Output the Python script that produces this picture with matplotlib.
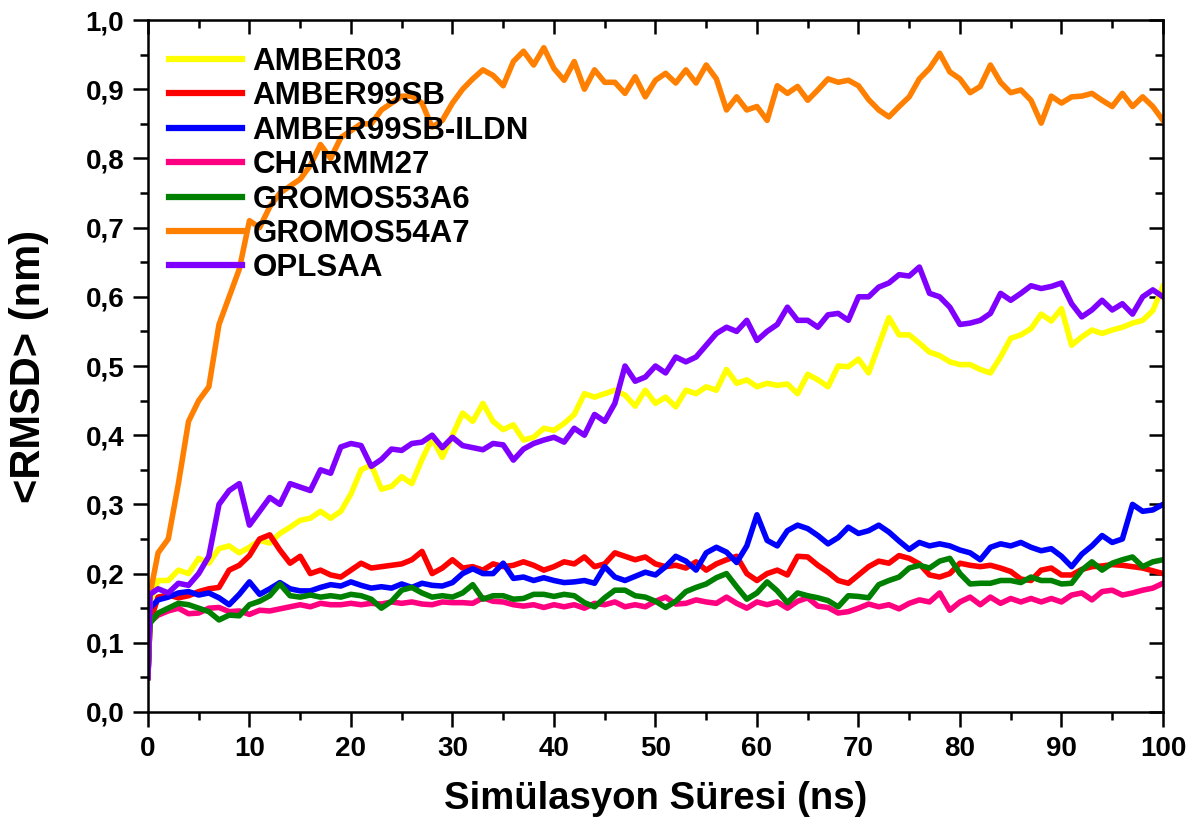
import matplotlib
matplotlib.use("Agg")
import matplotlib.pyplot as plt
from matplotlib.ticker import MultipleLocator, FuncFormatter

plt.rcParams['font.family'] = ['Liberation Sans', 'DejaVu Sans']
plt.rcParams['font.weight'] = 'bold'

# time axis (ns)
time = [0, 0.2] + list(range(1, 101))

amber03 = [0.05, 0.16, 0.19, 0.19, 0.205, 0.20, 0.222, 0.215, 0.236, 0.24, 0.23,
           0.238, 0.248, 0.244, 0.258, 0.267, 0.277, 0.28, 0.29, 0.28, 0.29,
           0.315, 0.35, 0.357, 0.322, 0.326, 0.34, 0.33, 0.365, 0.395, 0.368,
           0.40, 0.432, 0.42, 0.446, 0.42, 0.408, 0.415, 0.393, 0.397, 0.41,
           0.407, 0.417, 0.43, 0.46, 0.455, 0.46, 0.465, 0.458, 0.442, 0.465,
           0.446, 0.455, 0.441, 0.465, 0.46, 0.47, 0.465, 0.495, 0.475, 0.48,
           0.47, 0.475, 0.472, 0.474, 0.46, 0.488, 0.48, 0.47, 0.50, 0.499,
           0.51, 0.49, 0.53, 0.57, 0.545, 0.545, 0.533, 0.52, 0.515, 0.506,
           0.502, 0.502, 0.495, 0.49, 0.513, 0.54, 0.545, 0.554, 0.575, 0.565,
           0.583, 0.53, 0.542, 0.552, 0.547, 0.552, 0.556, 0.562, 0.566, 0.58,
           0.615]

amber99sb = [0.05, 0.13, 0.166, 0.169, 0.165, 0.168, 0.174, 0.178, 0.18, 0.205, 0.212,
             0.226, 0.25, 0.256, 0.234, 0.215, 0.225, 0.20, 0.205, 0.198, 0.195,
             0.205, 0.215, 0.208, 0.21, 0.212, 0.214, 0.22, 0.232, 0.20, 0.208,
             0.22, 0.208, 0.21, 0.205, 0.214, 0.21, 0.212, 0.217, 0.212, 0.205,
             0.21, 0.217, 0.214, 0.224, 0.21, 0.214, 0.23, 0.225, 0.22, 0.224,
             0.214, 0.21, 0.212, 0.208, 0.217, 0.205, 0.214, 0.22, 0.225, 0.20,
             0.19, 0.20, 0.205, 0.198, 0.225, 0.224, 0.212, 0.202, 0.19, 0.186,
             0.198, 0.21, 0.218, 0.215, 0.226, 0.222, 0.214, 0.198, 0.195, 0.20,
             0.215, 0.212, 0.21, 0.212, 0.208, 0.203, 0.192, 0.19, 0.205, 0.208,
             0.198, 0.198, 0.206, 0.21, 0.211, 0.213, 0.212, 0.21, 0.208, 0.204,
             0.20]

amber99sb_ildn = [0.05, 0.15, 0.162, 0.166, 0.172, 0.174, 0.169, 0.172, 0.165, 0.155, 0.17,
                  0.188, 0.17, 0.178, 0.187, 0.178, 0.175, 0.175, 0.18, 0.184, 0.182,
                  0.188, 0.183, 0.179, 0.181, 0.179, 0.185, 0.18, 0.186, 0.183, 0.182,
                  0.187, 0.20, 0.207, 0.20, 0.20, 0.215, 0.193, 0.195, 0.19, 0.194,
                  0.19, 0.187, 0.188, 0.19, 0.186, 0.21, 0.195, 0.19, 0.196, 0.202,
                  0.198, 0.21, 0.225, 0.218, 0.205, 0.23, 0.238, 0.231, 0.216, 0.24,
                  0.285, 0.248, 0.24, 0.262, 0.27, 0.265, 0.255, 0.243, 0.252, 0.267,
                  0.258, 0.262, 0.27, 0.26, 0.247, 0.235, 0.245, 0.24, 0.243, 0.24,
                  0.234, 0.23, 0.22, 0.238, 0.243, 0.24, 0.245, 0.238, 0.233, 0.236,
                  0.225, 0.21, 0.228, 0.24, 0.255, 0.245, 0.25, 0.30, 0.29, 0.292,
                  0.30]

charmm27 = [0.05, 0.13, 0.14, 0.146, 0.15, 0.142, 0.143, 0.15, 0.151, 0.145, 0.146,
            0.141, 0.147, 0.146, 0.149, 0.152, 0.155, 0.152, 0.157, 0.155, 0.155,
            0.157, 0.155, 0.157, 0.156, 0.159, 0.157, 0.159, 0.156, 0.155, 0.159,
            0.158, 0.158, 0.157, 0.165, 0.16, 0.159, 0.155, 0.153, 0.155, 0.151,
            0.155, 0.152, 0.155, 0.15, 0.157, 0.155, 0.159, 0.152, 0.155, 0.152,
            0.16, 0.166, 0.156, 0.157, 0.162, 0.159, 0.157, 0.166, 0.157, 0.15,
            0.159, 0.155, 0.159, 0.15, 0.16, 0.165, 0.153, 0.151, 0.143, 0.145,
            0.15, 0.156, 0.152, 0.155, 0.149, 0.157, 0.162, 0.159, 0.172, 0.147,
            0.159, 0.166, 0.155, 0.166, 0.157, 0.164, 0.159, 0.164, 0.159, 0.164,
            0.159, 0.169, 0.172, 0.162, 0.174, 0.176, 0.169, 0.172, 0.176, 0.179,
            0.186]

gromos53a6 = [0.05, 0.128, 0.143, 0.15, 0.157, 0.155, 0.15, 0.145, 0.133, 0.14, 0.139,
              0.155, 0.16, 0.168, 0.185, 0.168, 0.166, 0.169, 0.166, 0.168, 0.166,
              0.17, 0.168, 0.163, 0.15, 0.16, 0.176, 0.18, 0.172, 0.166, 0.168,
              0.166, 0.172, 0.184, 0.163, 0.168, 0.168, 0.163, 0.164, 0.17, 0.17,
              0.167, 0.17, 0.168, 0.158, 0.152, 0.165, 0.176, 0.176, 0.168, 0.166,
              0.16, 0.151, 0.16, 0.174, 0.18, 0.185, 0.194, 0.20, 0.181, 0.163,
              0.172, 0.188, 0.175, 0.158, 0.172, 0.168, 0.165, 0.161, 0.152, 0.168,
              0.167, 0.165, 0.184, 0.19, 0.195, 0.208, 0.212, 0.208, 0.218, 0.222,
              0.20, 0.185, 0.186, 0.186, 0.19, 0.19, 0.187, 0.195, 0.19, 0.19,
              0.185, 0.186, 0.205, 0.217, 0.205, 0.215, 0.22, 0.224, 0.21, 0.217,
              0.22]

gromos54a7 = [0.05, 0.17, 0.23, 0.25, 0.33, 0.42, 0.45, 0.47, 0.56, 0.60, 0.64,
              0.71, 0.70, 0.73, 0.75, 0.76, 0.77, 0.79, 0.82, 0.80, 0.83,
              0.84, 0.85, 0.85, 0.87, 0.88, 0.89, 0.89, 0.88, 0.845, 0.855,
              0.88, 0.90, 0.915, 0.928, 0.92, 0.905, 0.94, 0.955, 0.935, 0.96,
              0.93, 0.913, 0.94, 0.90, 0.928, 0.91, 0.91, 0.894, 0.918, 0.889,
              0.913, 0.923, 0.909, 0.928, 0.909, 0.935, 0.915, 0.87, 0.889, 0.87,
              0.875, 0.855, 0.905, 0.894, 0.904, 0.884, 0.899, 0.915, 0.91, 0.913,
              0.905, 0.885, 0.87, 0.86, 0.875, 0.889, 0.915, 0.93, 0.952, 0.925,
              0.915, 0.895, 0.904, 0.935, 0.91, 0.895, 0.899, 0.884, 0.851, 0.89,
              0.88, 0.889, 0.89, 0.894, 0.884, 0.875, 0.894, 0.875, 0.889, 0.875,
              0.855]

oplsaa = [0.05, 0.17, 0.178, 0.172, 0.186, 0.183, 0.20, 0.225, 0.30, 0.32, 0.33,
          0.27, 0.29, 0.31, 0.30, 0.33, 0.325, 0.32, 0.35, 0.345, 0.383,
          0.388, 0.385, 0.355, 0.365, 0.38, 0.378, 0.388, 0.39, 0.40, 0.382,
          0.397, 0.385, 0.382, 0.379, 0.388, 0.386, 0.364, 0.38, 0.388, 0.393,
          0.397, 0.39, 0.41, 0.40, 0.43, 0.42, 0.446, 0.50, 0.478, 0.484,
          0.50, 0.49, 0.513, 0.506, 0.513, 0.53, 0.547, 0.556, 0.55, 0.566,
          0.537, 0.55, 0.56, 0.585, 0.566, 0.566, 0.556, 0.574, 0.576, 0.566,
          0.60, 0.60, 0.614, 0.62, 0.632, 0.63, 0.643, 0.605, 0.60, 0.585,
          0.56, 0.562, 0.566, 0.576, 0.605, 0.595, 0.605, 0.616, 0.612, 0.615,
          0.62, 0.59, 0.571, 0.581, 0.595, 0.581, 0.59, 0.575, 0.60, 0.61,
          0.60]

series = [('AMBER03', amber03, '#FFFF00'),
          ('AMBER99SB', amber99sb, '#FF0000'),
          ('AMBER99SB-ILDN', amber99sb_ildn, '#0000FF'),
          ('CHARMM27', charmm27, '#FF0080'),
          ('GROMOS53A6', gromos53a6, '#008000'),
          ('GROMOS54A7', gromos54a7, '#FF8000'),
          ('OPLSAA', oplsaa, '#8000FF')]

fig = plt.figure(figsize=(11.95, 8.21), dpi=100)
ax = fig.add_axes([0.1238, 0.1328, 0.8494, 0.8428])

for name, vals, col in series:
    ax.plot(time, vals, color=col, lw=4, label=name, solid_joinstyle='round')

ax.set_xlim(0, 100)
ax.set_ylim(0, 1.0)
ax.xaxis.set_major_locator(MultipleLocator(10))
ax.xaxis.set_minor_locator(MultipleLocator(5))
ax.yaxis.set_major_locator(MultipleLocator(0.1))
ax.yaxis.set_minor_locator(MultipleLocator(0.05))
ax.yaxis.set_major_formatter(FuncFormatter(lambda v, p: f'{v:.1f}'.replace('.', ',')))

ax.tick_params(which='major', direction='out', length=11, width=1.8, labelsize=20, pad=6)
ax.tick_params(which='minor', direction='out', length=5.5, width=1.8)
for s in ax.spines.values():
    s.set_linewidth(1.8)

# top / right ticks point inwards
top = ax.secondary_xaxis('top')
top.xaxis.set_major_locator(MultipleLocator(10))
top.xaxis.set_minor_locator(MultipleLocator(5))
top.tick_params(which='major', direction='in', length=10, width=1.8, labeltop=False)
top.tick_params(which='minor', direction='in', length=5.5, width=1.8)
right = ax.secondary_yaxis('right')
right.yaxis.set_major_locator(MultipleLocator(0.1))
right.yaxis.set_minor_locator(MultipleLocator(0.05))
right.tick_params(which='major', direction='in', length=10, width=1.8, labelright=False)
right.tick_params(which='minor', direction='in', length=5.5, width=1.8)

ax.set_xlabel('Simülasyon Süresi (ns)', fontsize=27.5, fontweight='bold', labelpad=14)
ax.set_ylabel('<RMSD> (nm)', fontsize=30, fontweight='bold', labelpad=26)

leg = ax.legend(loc='upper left', bbox_to_anchor=(0.021, 0.961), frameon=False,
                fontsize=22.5, handlelength=2.34, handletextpad=0.32, labelspacing=0.14,
                borderpad=0, borderaxespad=0)
for h in leg.get_lines():
    h.set_linewidth(4.5)

fig.savefig('out.png', dpi=100)
